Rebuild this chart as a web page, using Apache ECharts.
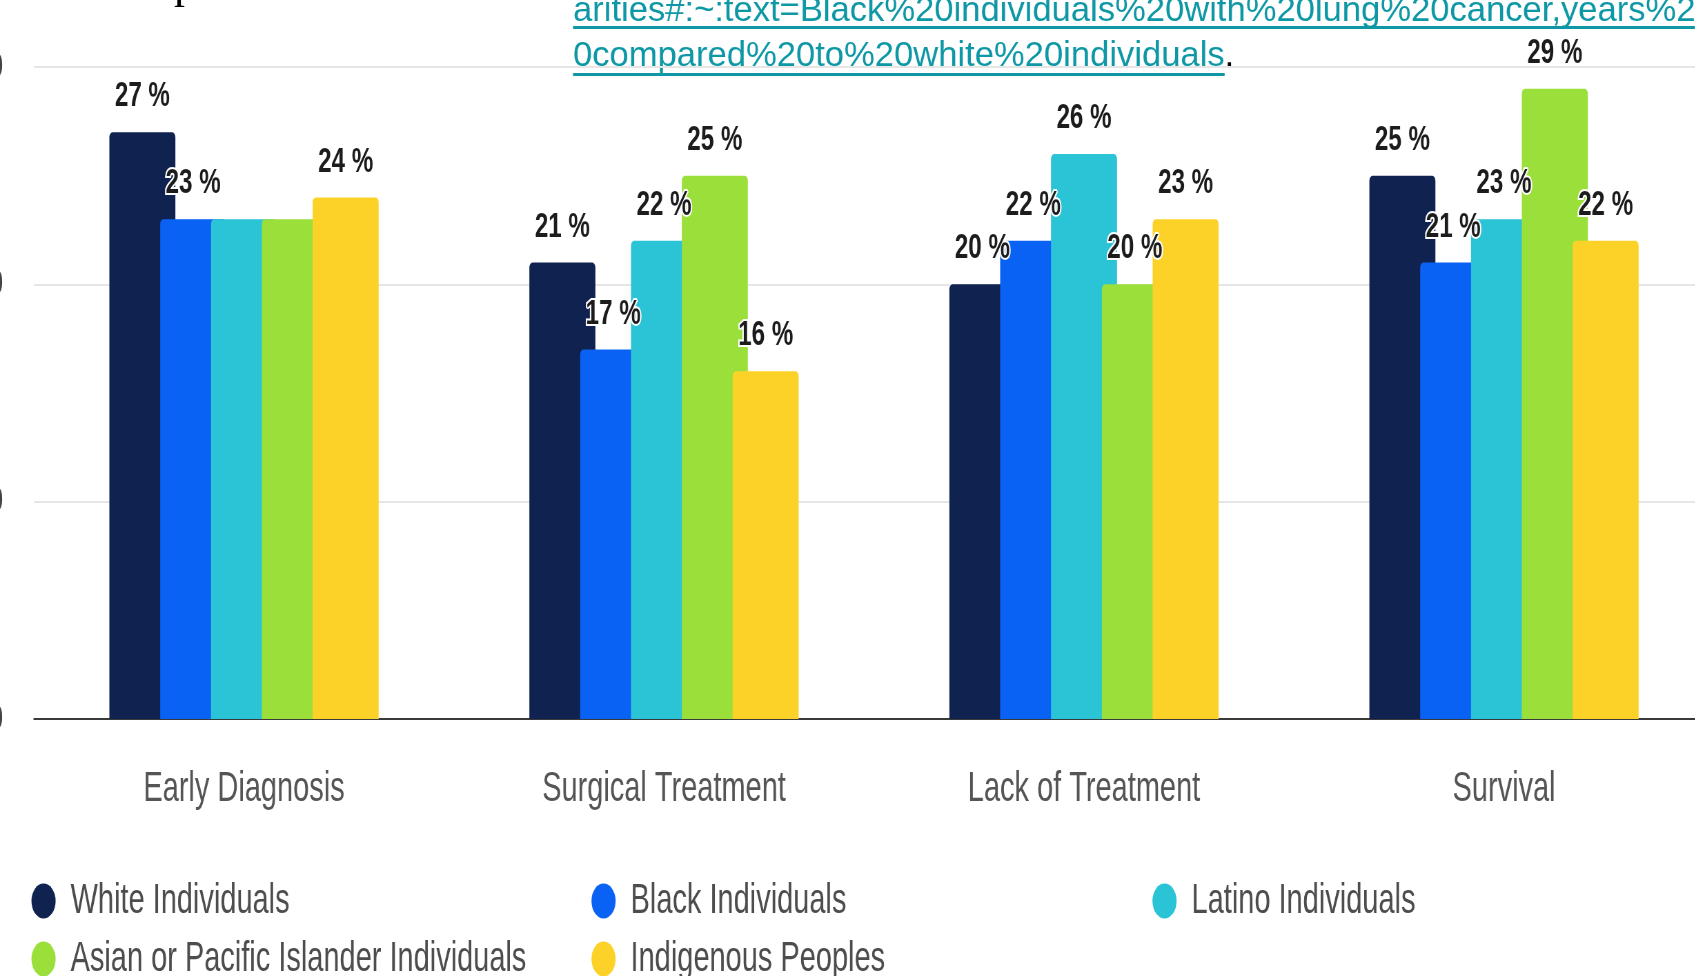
<!DOCTYPE html>
<html>
<head>
<meta charset="utf-8">
<script src="https://cdn.jsdelivr.net/npm/echarts@6/dist/echarts.min.js"></script>
<style>
  html, body { margin: 0; padding: 0; background: #ffffff; overflow: hidden; width: 1695px; height: 976px; }
  #chart { height: 976px; transform-origin: 0 0; }
</style>
</head>
<body>
<div id="chart"></div>
<script>
// ---- data ----
const categories = ['Early Diagnosis', 'Surgical Treatment', 'Lack of Treatment', 'Survival'];
const seriesNames = ['White Individuals', 'Black Individuals', 'Latino Individuals',
  'Asian or Pacific Islander Individuals', 'Indigenous Peoples'];
const whiteValues = [27, 21, 20, 25];
const blackValues = [23, 17, 22, 21];
const latinoValues = [23, 22, 26, 23];
const asianValues = [23, 25, 20, 29];
const indigenousValues = [24, 16, 23, 22];
const yTicks = [0, 10, 20, 30];
// labels that are not drawn in the original (hidden by overlap): series -> category indexes
const hiddenLabels = { 'Latino Individuals': [0], 'Asian or Pacific Islander Individuals': [0] };
const linkLine1 = 'arities#:~:text=Black%20individuals%20with%20lung%20cancer,years%2';
const linkLine2 = '0compared%20to%20white%20individuals';

// ---- styles / layout ----
// the original chart picture is squeezed horizontally; draw wide, then compress with CSS
const SX = 0.69;
const CW = 1695 / SX;
const px = (x) => x / SX;   // real horizontal px -> chart px

const colors = ['#10224f', '#0a62f5', '#2bc3d6', '#9be03a', '#fcd229'];
const sans = "'Liberation Sans', Arial, sans-serif";
const linkColor = '#0e98a6';
const linkFont = "34.6px 'Liberation Sans', Arial, sans-serif";

const el = document.getElementById('chart');
el.style.width = CW + 'px';
el.style.transform = 'scaleX(' + SX + ')';

const valuesBySeries = [whiteValues, blackValues, latinoValues, asianValues, indigenousValues];

function measure(text, font) {
  const c = document.createElement('canvas').getContext('2d');
  c.font = font;
  return c.measureText(text).width;
}

const series = seriesNames.map((name, si) => ({
  name: name,
  type: 'bar',
  barWidth: px(66),
  barGap: '-23%',
  itemStyle: { color: colors[si], borderRadius: [5, 5, 0, 0] },
  label: {
    show: true,
    position: 'top',
    distance: 18,
    formatter: '{c} %',
    fontFamily: sans,
    fontWeight: 'bold',
    fontSize: 35,
    color: '#1c1c1c',
    textBorderColor: '#ffffff',
    textBorderWidth: 4
  },
  data: valuesBySeries[si].map((v, ci) => {
    const hide = (hiddenLabels[name] || []).indexOf(ci) >= 0;
    return hide ? { value: v, label: { show: false } } : v;
  })
}));

const legendPos = [
  [28, 875], [588, 875], [1149, 875], [28, 933], [588, 933]
];
const legends = seriesNames.map((name, i) => ({
  orient: 'horizontal',
  icon: 'circle',
  itemWidth: px(26),
  itemHeight: 35,
  left: px(legendPos[i][0]),
  top: legendPos[i][1],
  selectedMode: false,
  data: [name],
  textStyle: { fontFamily: sans, fontSize: 42, color: '#4d4d4d', padding: [0, 0, 0, px(14) - 5] }
}));

const linkLeft = px(573);
const line2Width = measure(linkLine2, linkFont);

const option = {
  backgroundColor: '#ffffff',
  animation: false,
  color: colors,
  grid: { left: px(34), width: px(1680), top: 67, bottom: 257, outerBoundsMode: 'none', containLabel: false },
  xAxis: {
    type: 'category',
    data: categories,
    axisTick: { show: false },
    axisLine: { lineStyle: { color: '#3a3a3a', width: 2 } },
    axisLabel: { fontFamily: sans, fontSize: 42, color: '#555555', margin: 49 }
  },
  yAxis: {
    type: 'value',
    min: yTicks[0],
    max: yTicks[yTicks.length - 1],
    interval: yTicks[1] - yTicks[0],
    axisLine: { show: false },
    axisTick: { show: false },
    splitLine: { lineStyle: { color: '#e6e6e6', width: 2 } },
    axisLabel: { fontFamily: sans, fontSize: 35, color: '#444444', margin: px(31) }
  },
  legend: legends,
  graphic: [
    // cut-off text of the document above the chart
    { type: 'text', x: px(174), y: -36, scaleX: 1 / SX, style: { text: 'p', font: "44px 'Liberation Serif', serif", fill: '#000000' } },
    { type: 'text', x: linkLeft, y: 11, scaleX: 1 / SX, style: { text: linkLine1, font: linkFont, fill: linkColor, verticalAlign: 'middle' } },
    { type: 'rect', shape: { x: linkLeft, y: 26, width: CW - linkLeft, height: 3 }, style: { fill: linkColor } },
    { type: 'text', x: linkLeft, y: 56, scaleX: 1 / SX, style: { text: linkLine2, font: linkFont, fill: linkColor, verticalAlign: 'middle' } },
    { type: 'rect', shape: { x: linkLeft, y: 73, width: line2Width / SX, height: 3 }, style: { fill: linkColor } },
    { type: 'text', x: linkLeft + line2Width / SX, y: 56, scaleX: 1 / SX, style: { text: '.', font: linkFont, fill: '#000000', verticalAlign: 'middle' } }
  ],
  series: series
};

const chart = echarts.init(el, null, { renderer: 'canvas' });
chart.setOption(option);
</script>
</body>
</html>
